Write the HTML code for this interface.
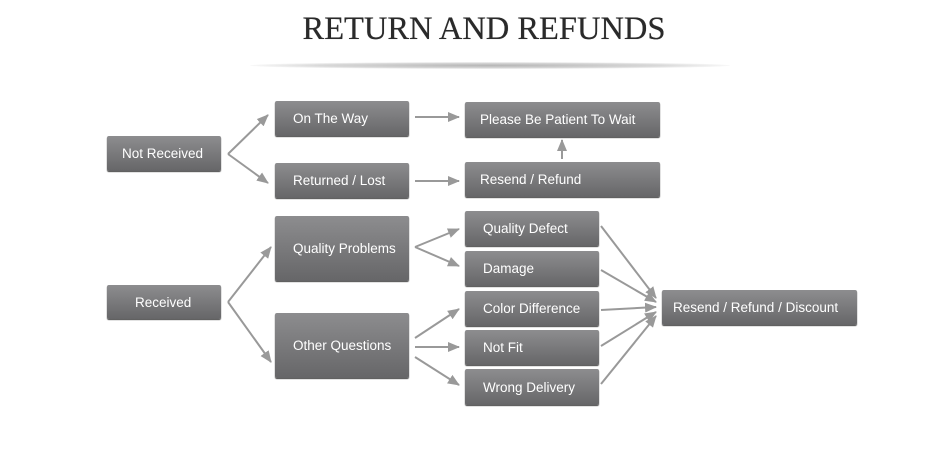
<!DOCTYPE html>
<html><head><style>
body{margin:0;width:950px;height:452px;background:#fff;position:relative;overflow:hidden;font-family:"Liberation Sans",sans-serif}
.t{position:absolute;left:0;width:968px;top:11px;text-align:center;font-family:"Liberation Serif",serif;font-size:32.5px;color:#2a2a2a;text-shadow:0 0 0.5px #333}
.sh{position:absolute;left:250px;top:62px;width:480px;height:7px;border-radius:50%;background:radial-gradient(ellipse at center,#b5b5b5 0%,#d8d8d8 50%,rgba(255,255,255,0) 75%)}
.b{position:absolute;box-sizing:border-box;background:linear-gradient(#8d8d8f,#666668);border-radius:2px;color:#fff;font-size:13.5px;display:flex;align-items:center;padding-left:18px;box-shadow:0 1px 1px #444}
svg{position:absolute;left:0;top:0}
</style></head><body>
<div class="t">RETURN AND REFUNDS</div>
<div class="sh"></div>
<svg width="950" height="452">
<defs><marker id="a" markerWidth="12" markerHeight="10" refX="11" refY="5" orient="auto" markerUnits="userSpaceOnUse"><path d="M0,0 L12,5 L0,10 z" fill="#999"/></marker></defs>
<g stroke="#999" stroke-width="2" fill="none" marker-end="url(#a)">
<line x1="228" y1="154" x2="268" y2="115"/>
<line x1="228" y1="154" x2="268" y2="183"/>
<line x1="415" y1="117" x2="459" y2="117"/>
<line x1="415" y1="181" x2="459" y2="181"/>
<line x1="562" y1="159" x2="562" y2="140"/>
<line x1="228" y1="302" x2="271" y2="247"/>
<line x1="228" y1="302" x2="271" y2="362"/>
<line x1="415" y1="247" x2="459" y2="229"/>
<line x1="415" y1="247" x2="459" y2="266"/>
<line x1="415" y1="338" x2="459" y2="309"/>
<line x1="415" y1="347" x2="459" y2="347"/>
<line x1="415" y1="357" x2="459" y2="385"/>
<line x1="601" y1="226" x2="656" y2="298"/>
<line x1="601" y1="270" x2="656" y2="302"/>
<line x1="601" y1="310" x2="656" y2="307"/>
<line x1="601" y1="346" x2="656" y2="312"/>
<line x1="601" y1="384" x2="656" y2="316"/>
</g></svg>
<div class="b" style="left:107px;top:136px;width:114px;height:35px;padding-left:15px">Not Received</div>
<div class="b" style="left:275px;top:101px;width:134px;height:35px">On The Way</div>
<div class="b" style="left:275px;top:163px;width:134px;height:35px">Returned / Lost</div>
<div class="b" style="left:465px;top:102px;width:195px;height:35px;padding-left:15px">Please Be Patient To Wait</div>
<div class="b" style="left:465px;top:162px;width:195px;height:35px;padding-left:15px">Resend / Refund</div>
<div class="b" style="left:107px;top:285px;width:114px;height:34px;padding-left:28px">Received</div>
<div class="b" style="left:275px;top:216px;width:134px;height:65px">Quality Problems</div>
<div class="b" style="left:275px;top:313px;width:134px;height:65px">Other Questions</div>
<div class="b" style="left:465px;top:211px;width:134px;height:35px">Quality Defect</div>
<div class="b" style="left:465px;top:251px;width:134px;height:35px">Damage</div>
<div class="b" style="left:465px;top:291px;width:134px;height:35px">Color Difference</div>
<div class="b" style="left:465px;top:330px;width:134px;height:35px">Not Fit</div>
<div class="b" style="left:465px;top:369px;width:134px;height:36px">Wrong Delivery</div>
<div class="b" style="left:662px;top:290px;width:195px;height:35px;padding-left:11px">Resend / Refund / Discount</div>
</body></html>
